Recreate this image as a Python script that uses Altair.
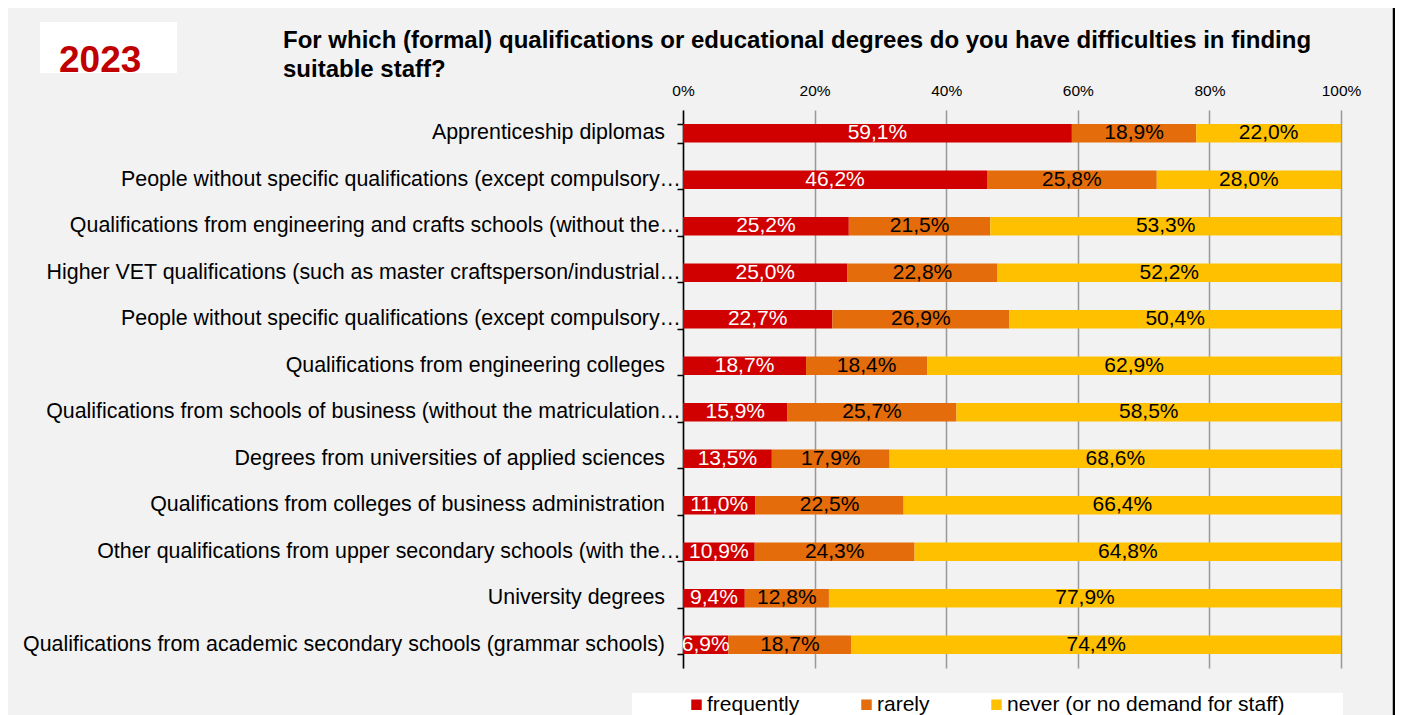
import altair as alt
import pandas as pd

categories = [
    "Apprenticeship diplomas",
    "People without specific qualifications (except compulsory…",
    "Qualifications from engineering and crafts schools (without the…",
    "Higher VET qualifications (such as master craftsperson/industrial…",
    "People without specific qualifications (except compulsory…\u200b",
    "Qualifications from engineering colleges",
    "Qualifications from schools of business (without the matriculation…",
    "Degrees from universities of applied sciences",
    "Qualifications from colleges of business administration",
    "Other qualifications from upper secondary schools (with the…",
    "University degrees",
    "Qualifications from academic secondary schools (grammar schools)",
]
levels = ["frequently", "rarely", "never (or no demand for staff)"]
frequently = [59.1, 46.2, 25.2, 25.0, 22.7, 18.7, 15.9, 13.5, 11.0, 10.9, 9.4, 6.9]
rarely = [18.9, 25.8, 21.5, 22.8, 26.9, 18.4, 25.7, 17.9, 22.5, 24.3, 12.8, 18.7]
never = [22.0, 28.0, 53.3, 52.2, 50.4, 62.9, 58.5, 68.6, 66.4, 64.8, 77.9, 74.4]
colors = ["#D00000", "#E46C0A", "#FFC000"]
title_lines = [
    "For which (formal) qualifications or educational degrees do you have difficulties in finding",
    "suitable staff?",
]
year_label = "2023"

rows = []
for i, c in enumerate(categories):
    for j, (lev, vals) in enumerate(zip(levels, [frequently, rarely, never])):
        rows.append({"cat": c, "level": lev, "order": j, "value": vals[i]})
df = pd.DataFrame(rows)

FONT = "Liberation Sans"

base = alt.Chart(df).transform_stack(
    stack="value", as_=["v0", "v1"], groupby=["cat"],
    sort=[alt.SortField("order", order="ascending")], offset="normalize"
).transform_calculate(
    mid="(datum.v0 + datum.v1) / 2",
    label="replace(format(datum.value, '.1f'), '.', ',') + '%'",
    trunc="indexof(datum.cat, '…') >= 0",
)

yscale = alt.Scale(paddingInner=0.6, paddingOuter=0.3)
yenc = alt.Y(
    "cat:N", sort=categories, scale=yscale,
    axis=alt.Axis(
        title=None, grid=False, labels=False, domainColor="black", domainWidth=1.5,
        tickColor="black", tickSize=6, tickWidth=1.5, tickBand="extent",
    ),
)

bars = base.mark_bar().encode(
    x=alt.X(
        "v0:Q",
        scale=alt.Scale(domain=[0, 1], nice=False),
        axis=alt.Axis(
            orient="top", title=None, grid=True, gridColor="#999999", gridWidth=1.5,
            domain=False, ticks=False, labelFontSize=15.5, labelColor="black",
            labelPadding=12, values=[0, 0.2, 0.4, 0.6, 0.8, 1.0], format=".0%",
            labelFont=FONT, labelFlush=False,
        ),
    ),
    x2="v1:Q",
    y=yenc,
    color=alt.Color(
        "level:N", sort=levels,
        scale=alt.Scale(domain=levels, range=colors),
        legend=alt.Legend(
            orient="none", legendX=3, legendY=584, direction="horizontal",
            title=None, symbolType="square", symbolSize=110, labelFontSize=21,
            columnPadding=56, labelOffset=0, padding=0, symbolStrokeWidth=0,
            labelFont=FONT, labelColor="black", labelLimit=500,
        ),
    ),
    order=alt.Order("order:Q"),
)

texts = base.mark_text(fontSize=21, font=FONT).encode(
    x=alt.X("mid:Q"),
    y=alt.Y("cat:N", sort=categories),
    text="label:N",
    color=alt.condition(alt.datum.level == "frequently", alt.value("white"), alt.value("black")),
)

cat_labels_full = base.transform_filter(
    "datum.level == 'frequently' && !datum.trunc"
).mark_text(fontSize=21.4, font=FONT, align="right", baseline="middle", color="black").encode(
    x=alt.value(-18), y=alt.Y("cat:N", sort=categories), text="cat:N"
)
cat_labels_trunc = base.transform_filter(
    "datum.level == 'frequently' && datum.trunc"
).mark_text(fontSize=21.4, font=FONT, align="right", baseline="middle", color="black").encode(
    x=alt.value(-2), y=alt.Y("cat:N", sort=categories), text="cat:N"
)

deco = pd.DataFrame({"t": [year_label]})
year_box = alt.Chart(deco).mark_rect(color="white").encode(
    x=alt.value(-643), x2=alt.value(-506), y=alt.value(-88), y2=alt.value(-37)
)
year_text = alt.Chart(deco).mark_text(
    fontSize=37, fontWeight="bold", font=FONT, color="#C00000", align="left", baseline="alphabetic"
).encode(x=alt.value(-624), y=alt.value(-38), text="t:N")
title_text = alt.Chart(deco).mark_text(
    fontSize=24, fontWeight="bold", font=FONT, color="black", align="left",
    baseline="alphabetic", lineHeight=29,
).encode(x=alt.value(-400), y=alt.value(-62), text=alt.value(title_lines))
legend_box = alt.Chart(deco).mark_rect(color="white").encode(
    x=alt.value(-51), x2=alt.value(660), y=alt.value(583), y2=alt.value(640)
)
right_line = alt.Chart(deco).mark_rule(color="black", strokeWidth=2.5).encode(
    x=alt.value(711), y=alt.value(-110), y2=alt.value(640)
)

chart = alt.layer(
    year_box, year_text, title_text, legend_box, bars, texts,
    cat_labels_full, cat_labels_trunc, right_line
).properties(
    width=658, height=558,
    padding={"left": 675, "top": 102, "right": 54, "bottom": 47},
    autosize=alt.AutoSizeParams(type="none"),
).configure(background="#f2f2f2").configure_view(stroke=None)

chart.save("out.html", embed_options={"renderer": "svg", "actions": False})
